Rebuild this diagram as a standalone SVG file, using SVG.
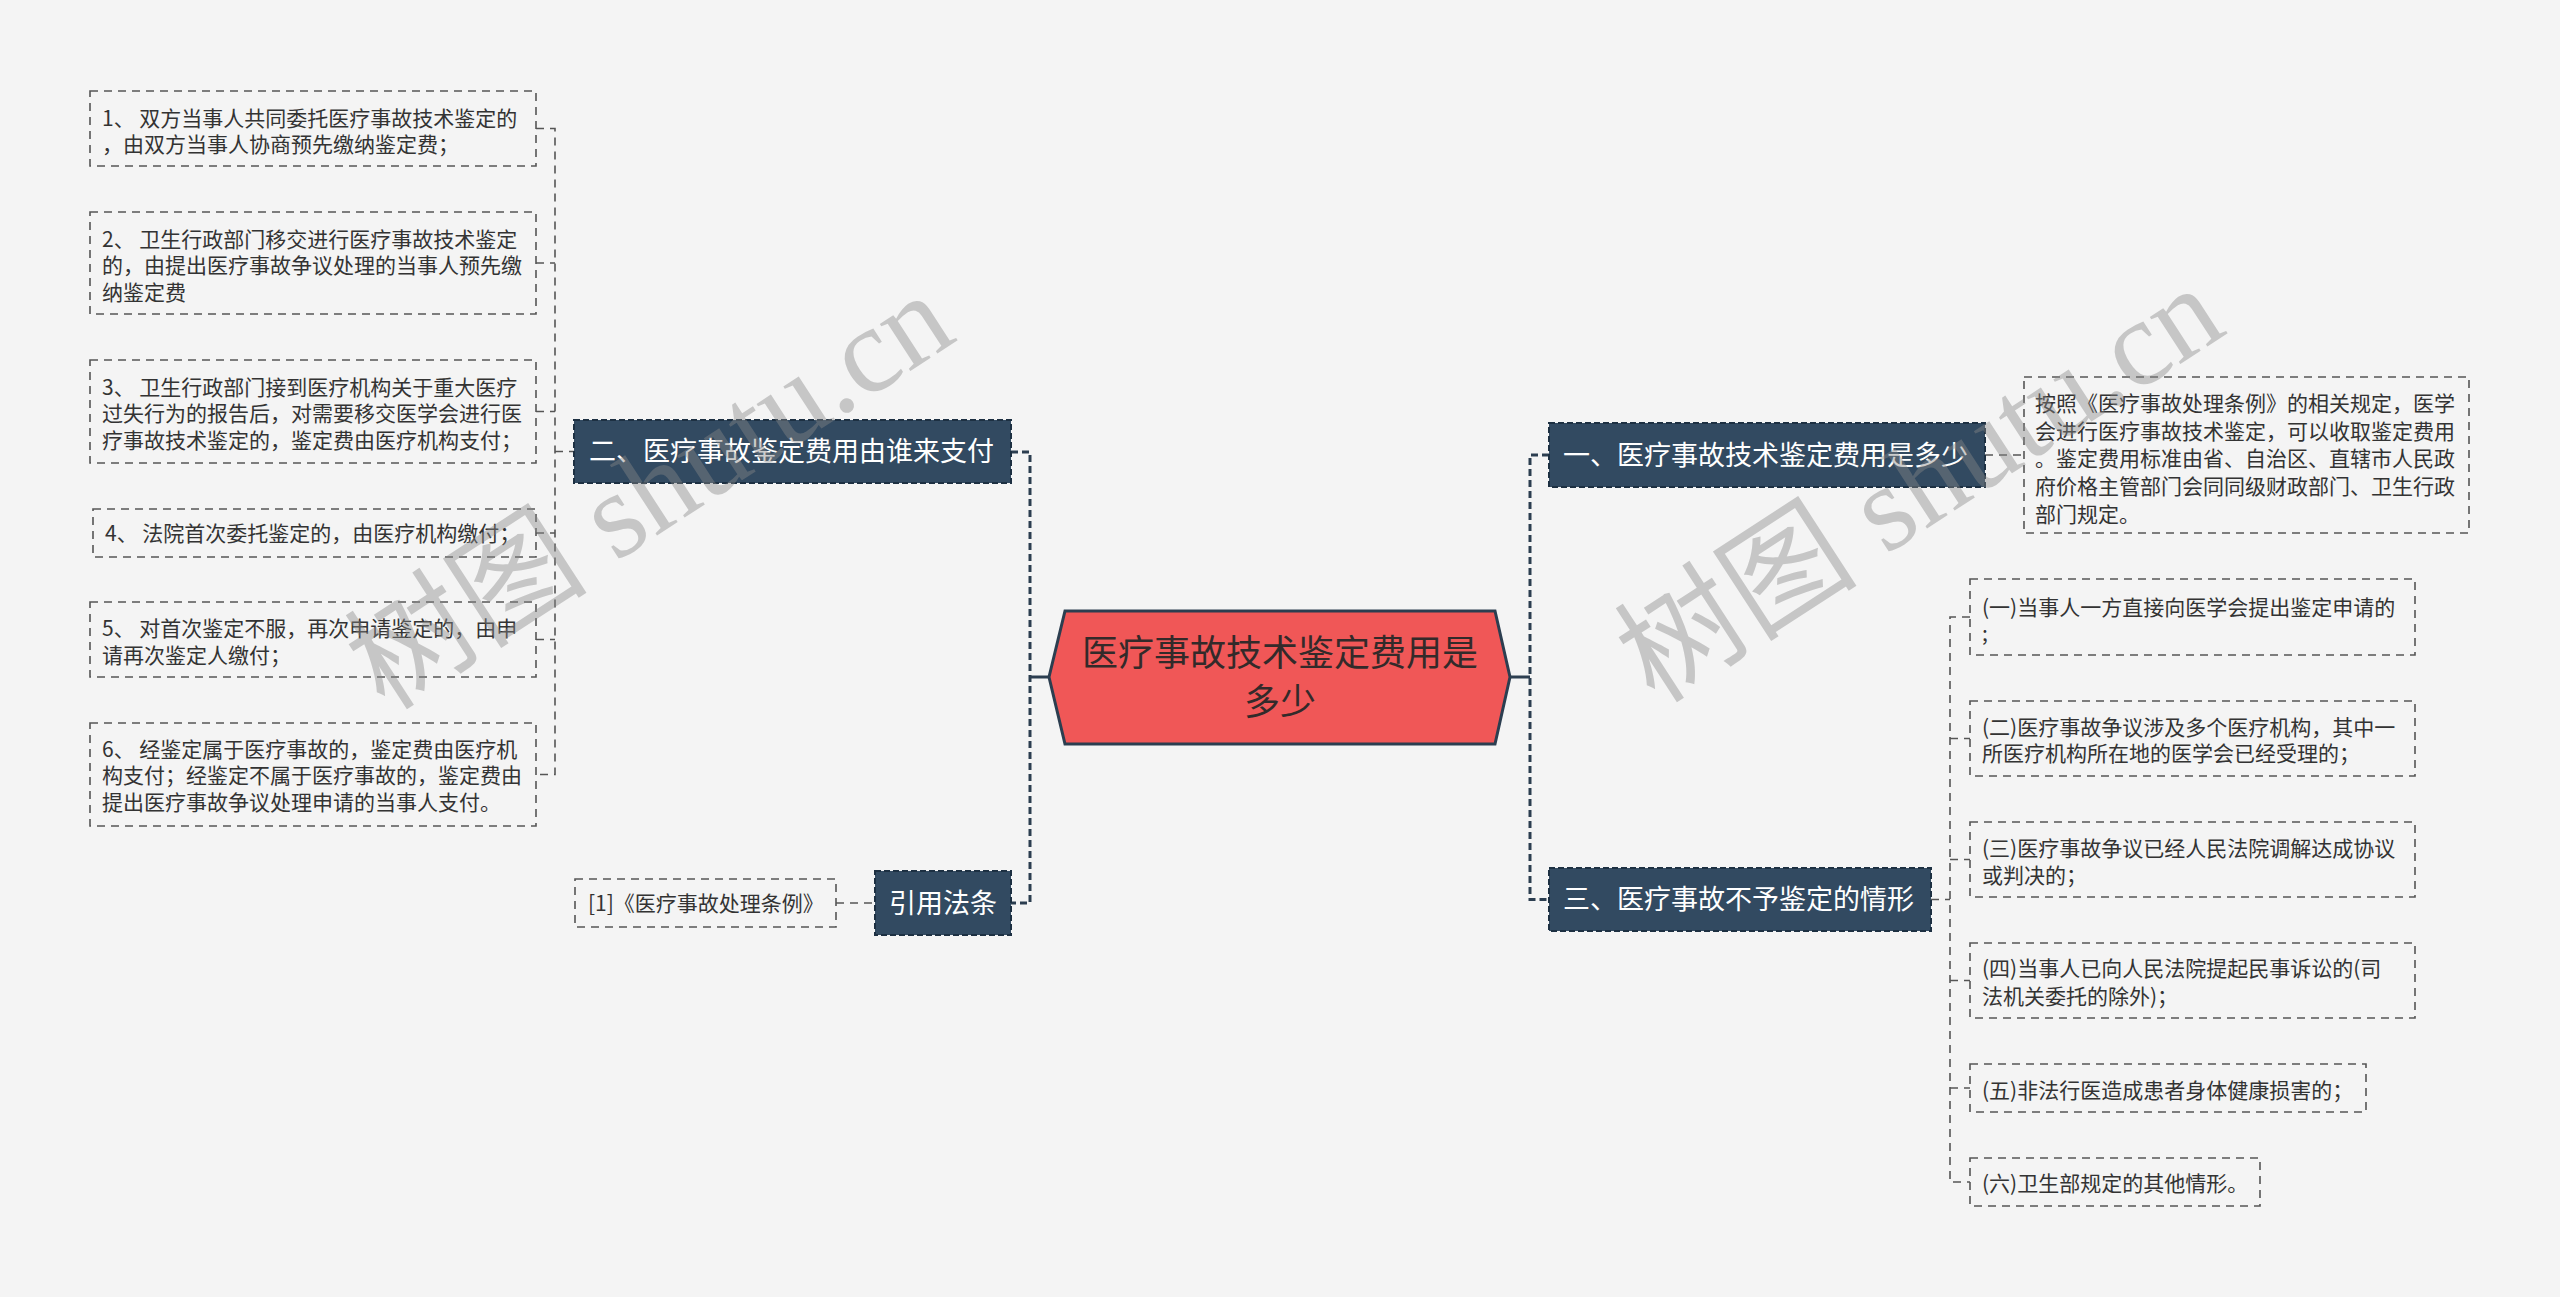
<svg xmlns="http://www.w3.org/2000/svg" width="2560" height="1297" viewBox="0 0 2560 1297">
<style>
.bg{fill:#f4f4f4}
.t{font-family:"Noto Sans CJK SC","Microsoft YaHei",sans-serif}
.box{fill:none;stroke:#555;stroke-width:1.6;stroke-dasharray:8 6}
.bt{font-size:21px;fill:#333}
.main{fill:#324a61;stroke:#1d3042;stroke-width:2;stroke-dasharray:6 3}
.mt{font-size:27px;fill:#fff}
.hex{fill:#f05757;stroke:#2c3e50;stroke-width:3}
.ht{font-size:36px;fill:#332a2a}
.cm{fill:none;stroke:#2c3e50;stroke-width:3;stroke-dasharray:7 4}
.cms{fill:none;stroke:#2c3e50;stroke-width:3}
.cs{fill:none;stroke:#555;stroke-width:1.6;stroke-dasharray:8 6}
.wm{fill:#888;opacity:0.42}
</style>
<rect class="bg" x="0" y="0" width="2560" height="1297"/>

<g id="connectors">
  <path class="cms" d="M1049,677 H1030"/>
  <path class="cm" d="M1011,452 H1030 V903 H1011"/>
  <path class="cms" d="M1510,677 H1530"/>
  <path class="cm" d="M1549,455 H1530 V899.5 H1549"/>
  <path class="cs" d="M536,128.5 H555 V774.5 H536"/>
  <path class="cs" d="M536,263 H555"/>
  <path class="cs" d="M536,411.5 H555"/>
  <path class="cs" d="M536,533 H555"/>
  <path class="cs" d="M536,639.5 H555"/>
  <path class="cs" d="M555,451.5 H574"/>
  <path class="cs" d="M836,903 H875"/>
  <path class="cs" d="M1985,455 H2024"/>
  <path class="cs" d="M1931,899.5 H1950"/>
  <path class="cs" d="M1970,617 H1950 V1182 H1970"/>
  <path class="cs" d="M1950,738.5 H1970"/>
  <path class="cs" d="M1950,859.5 H1970"/>
  <path class="cs" d="M1950,980.5 H1970"/>
  <path class="cs" d="M1950,1088 H1970"/>
</g>

<g id="center">
  <polygon class="hex" points="1049,677 1065,611 1495,611 1510,677 1495,744 1065,744"/>
  <text class="t ht" text-anchor="middle"><tspan x="1280" y="666">医疗事故技术鉴定费用是</tspan><tspan x="1280" y="715">多少</tspan></text>
</g>

<g id="n-er">
  <rect class="main" x="574" y="420" width="437" height="63"/>
  <text class="t mt" x="589" y="461">二、医疗事故鉴定费用由谁来支付</text>
</g>
<g id="n-yinyong">
  <rect class="main" x="875" y="871" width="136" height="64"/>
  <text class="t mt" x="943" y="913" text-anchor="middle">引用法条</text>
</g>
<g id="n-yi">
  <rect class="main" x="1549" y="423" width="436" height="64"/>
  <text class="t mt" x="1563" y="465">一、医疗事故技术鉴定费用是多少</text>
</g>
<g id="n-san">
  <rect class="main" x="1549" y="868" width="382" height="63"/>
  <text class="t mt" x="1563" y="909">三、医疗事故不予鉴定的情形</text>
</g>

<g id="l1">
  <rect class="box" x="90" y="91" width="446" height="75"/>
  <text class="t bt"><tspan x="102" y="126">1、 双方当事人共同委托医疗事故技术鉴定的</tspan><tspan x="102" y="152">，由双方当事人协商预先缴纳鉴定费；</tspan></text>
</g>
<g id="l2">
  <rect class="box" x="90" y="212" width="446" height="102"/>
  <text class="t bt"><tspan x="102" y="247">2、 卫生行政部门移交进行医疗事故技术鉴定</tspan><tspan x="102" y="273">的，由提出医疗事故争议处理的当事人预先缴</tspan><tspan x="102" y="300">纳鉴定费</tspan></text>
</g>
<g id="l3">
  <rect class="box" x="90" y="360" width="446" height="103"/>
  <text class="t bt"><tspan x="102" y="395">3、 卫生行政部门接到医疗机构关于重大医疗</tspan><tspan x="102" y="421">过失行为的报告后，对需要移交医学会进行医</tspan><tspan x="102" y="448">疗事故技术鉴定的，鉴定费由医疗机构支付；</tspan></text>
</g>
<g id="l4">
  <rect class="box" x="93" y="509" width="443" height="48"/>
  <text class="t bt" x="105" y="541">4、 法院首次委托鉴定的，由医疗机构缴付；</text>
</g>
<g id="l5">
  <rect class="box" x="90" y="602" width="446" height="75"/>
  <text class="t bt"><tspan x="102" y="636">5、 对首次鉴定不服，再次申请鉴定的，由申</tspan><tspan x="102" y="663">请再次鉴定人缴付；</tspan></text>
</g>
<g id="l6">
  <rect class="box" x="90" y="723" width="446" height="103"/>
  <text class="t bt"><tspan x="102" y="757">6、 经鉴定属于医疗事故的，鉴定费由医疗机</tspan><tspan x="102" y="783">构支付；经鉴定不属于医疗事故的，鉴定费由</tspan><tspan x="102" y="810">提出医疗事故争议处理申请的当事人支付。</tspan></text>
</g>
<g id="cite">
  <rect class="box" x="575" y="879" width="261" height="48"/>
  <text class="t bt" x="588" y="911">[1]《医疗事故处理条例》</text>
</g>

<g id="r0">
  <rect class="box" x="2024" y="377" width="445" height="156"/>
  <text class="t bt"><tspan x="2035" y="411">按照《医疗事故处理条例》的相关规定，医学</tspan><tspan x="2035" y="439">会进行医疗事故技术鉴定，可以收取鉴定费用</tspan><tspan x="2035" y="466">。鉴定费用标准由省、自治区、直辖市人民政</tspan><tspan x="2035" y="494">府价格主管部门会同同级财政部门、卫生行政</tspan><tspan x="2035" y="522">部门规定。</tspan></text>
</g>
<g id="r1">
  <rect class="box" x="1970" y="579" width="445" height="76"/>
  <text class="t bt"><tspan x="1982" y="615">(一)当事人一方直接向医学会提出鉴定申请的</tspan><tspan x="1982" y="641">;</tspan></text>
</g>
<g id="r2">
  <rect class="box" x="1970" y="701" width="445" height="75"/>
  <text class="t bt"><tspan x="1982" y="735">(二)医疗事故争议涉及多个医疗机构，其中一</tspan><tspan x="1982" y="761">所医疗机构所在地的医学会已经受理的；</tspan></text>
</g>
<g id="r3">
  <rect class="box" x="1970" y="822" width="445" height="75"/>
  <text class="t bt"><tspan x="1982" y="856">(三)医疗事故争议已经人民法院调解达成协议</tspan><tspan x="1982" y="883">或判决的；</tspan></text>
</g>
<g id="r4">
  <rect class="box" x="1970" y="943" width="445" height="75"/>
  <text class="t bt"><tspan x="1982" y="976">(四)当事人已向人民法院提起民事诉讼的(司</tspan><tspan x="1982" y="1004">法机关委托的除外)；</tspan></text>
</g>
<g id="r5">
  <rect class="box" x="1970" y="1064" width="396" height="48"/>
  <text class="t bt" x="1982" y="1098">(五)非法行医造成患者身体健康损害的；</text>
</g>
<g id="r6">
  <rect class="box" x="1970" y="1158" width="290" height="48"/>
  <text class="t bt" x="1982" y="1191">(六)卫生部规定的其他情形。</text>
</g>

<g id="watermark">
  <text class="wm" x="385" y="712" transform="rotate(-33 385 712)" font-size="122"><tspan font-family="Noto Sans CJK SC, sans-serif">树图</tspan><tspan font-family="Liberation Serif, serif"> shutu.cn</tspan></text>
  <text class="wm" x="1655" y="705" transform="rotate(-33 1655 705)" font-size="122"><tspan font-family="Noto Sans CJK SC, sans-serif">树图</tspan><tspan font-family="Liberation Serif, serif"> shutu.cn</tspan></text>
</g>
</svg>
